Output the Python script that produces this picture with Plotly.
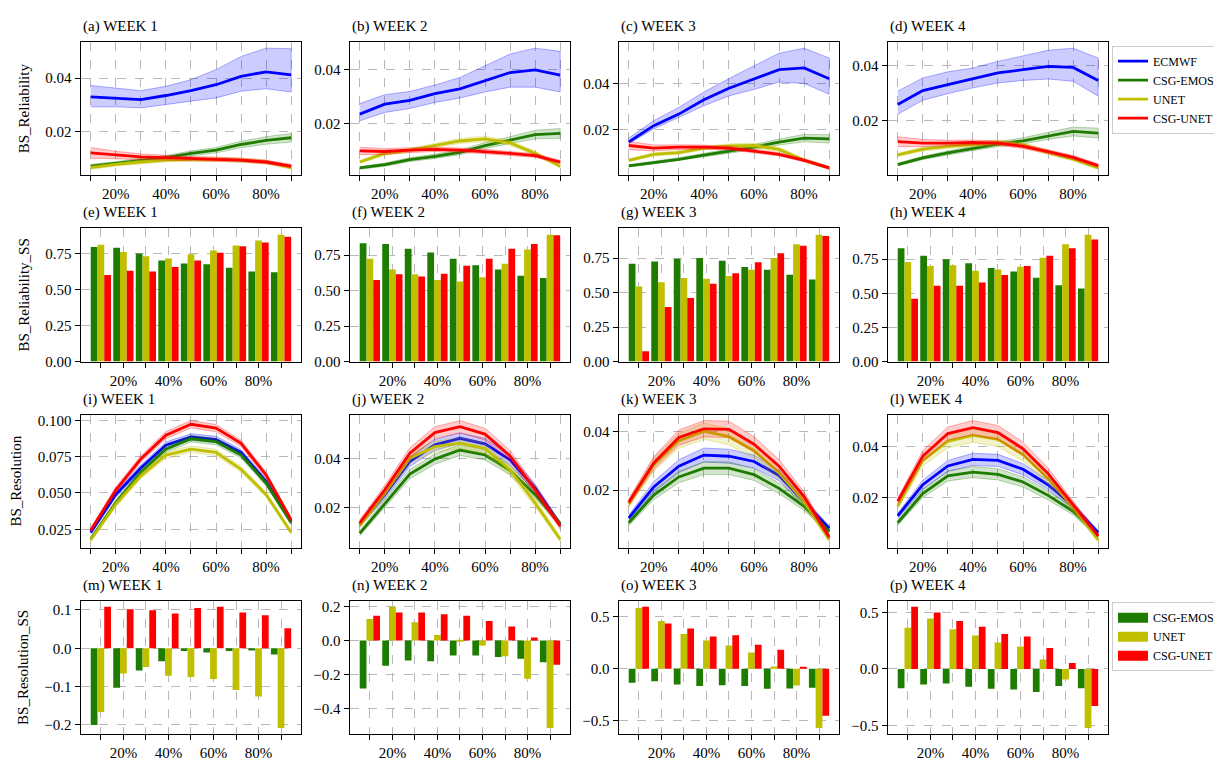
import plotly.graph_objects as go
from plotly.subplots import make_subplots

# thresholds (percent) on the x axis
thresholds = [10, 20, 30, 40, 50, 60, 70, 80, 90]
tick_text = ["", "20%", "", "40%", "", "60%", "", "80%", ""]
weeks = ["WEEK 1", "WEEK 2", "WEEK 3", "WEEK 4"]
letters = "abcdefghijklmnop"
row_titles = ["BS_Reliability", "BS_Reliability_SS", "BS_Resolution", "BS_Resolution_SS"]

# ---- row 1: BS_Reliability (one list per week) ----
rel_ecmwf = [
    [0.0330, 0.0326, 0.0320, 0.0335, 0.0353, 0.0375, 0.0406, 0.0423, 0.0412],
    [0.0236, 0.0273, 0.0287, 0.0312, 0.0330, 0.0360, 0.0390, 0.0400, 0.0381],
    [0.0146, 0.0217, 0.0267, 0.0329, 0.0379, 0.0420, 0.0460, 0.0467, 0.0420],
    [0.0260, 0.0310, 0.0332, 0.0353, 0.0374, 0.0386, 0.0398, 0.0394, 0.0347],
]
rel_ecmwf_hi = [
    [0.0372, 0.0363, 0.0353, 0.0369, 0.0394, 0.0431, 0.0480, 0.0511, 0.0509],
    [0.0275, 0.0308, 0.0320, 0.0344, 0.0372, 0.0415, 0.0459, 0.0481, 0.0469],
    [0.0163, 0.0239, 0.0296, 0.0363, 0.0421, 0.0477, 0.0531, 0.0553, 0.0510],
    [0.0308, 0.0356, 0.0378, 0.0392, 0.0416, 0.0437, 0.0456, 0.0464, 0.0428],
]
rel_ecmwf_lo = [
    [0.0293, 0.0293, 0.0289, 0.0301, 0.0314, 0.0326, 0.0351, 0.0360, 0.0348],
    [0.0211, 0.0242, 0.0257, 0.0279, 0.0296, 0.0318, 0.0336, 0.0336, 0.0318],
    [0.0139, 0.0203, 0.0253, 0.0303, 0.0346, 0.0374, 0.0406, 0.0400, 0.0353],
    [0.0224, 0.0275, 0.0299, 0.0320, 0.0338, 0.0347, 0.0352, 0.0344, 0.0290],
]
rel_emos = [
    [0.0073, 0.0083, 0.0095, 0.0104, 0.0120, 0.0132, 0.0153, 0.0168, 0.0178],
    [0.0036, 0.0048, 0.0067, 0.0079, 0.0094, 0.0119, 0.0139, 0.0160, 0.0164],
    [0.0043, 0.0057, 0.0071, 0.0089, 0.0106, 0.0124, 0.0146, 0.0163, 0.0160],
    [0.0042, 0.0066, 0.0084, 0.0101, 0.0116, 0.0128, 0.0146, 0.0162, 0.0156],
]
rel_emos_hw = [
    [0.0006, 0.0006, 0.0007, 0.0008, 0.0009, 0.0010, 0.0012, 0.0014, 0.0016],
    [0.0005, 0.0006, 0.0007, 0.0008, 0.0009, 0.0011, 0.0013, 0.0016, 0.0018],
    [0.0005, 0.0006, 0.0007, 0.0008, 0.0009, 0.0011, 0.0013, 0.0016, 0.0018],
    [0.0005, 0.0006, 0.0007, 0.0008, 0.0009, 0.0011, 0.0013, 0.0016, 0.0018],
]
rel_unet = [
    [0.0067, 0.0079, 0.0088, 0.0095, 0.0098, 0.0098, 0.0095, 0.0088, 0.0067],
    [0.0058, 0.0090, 0.0102, 0.0120, 0.0136, 0.0144, 0.0129, 0.0090, 0.0042],
    [0.0067, 0.0093, 0.0100, 0.0120, 0.0129, 0.0131, 0.0114, 0.0067, 0.0034],
    [0.0077, 0.0098, 0.0108, 0.0116, 0.0122, 0.0113, 0.0086, 0.0062, 0.0030],
]
rel_unet_hw = [
    [0.0006, 0.0006, 0.0007, 0.0007, 0.0008, 0.0008, 0.0008, 0.0007, 0.0006],
    [0.0006, 0.0007, 0.0007, 0.0008, 0.0009, 0.0010, 0.0009, 0.0008, 0.0006],
    [0.0006, 0.0007, 0.0007, 0.0008, 0.0009, 0.0010, 0.0009, 0.0008, 0.0006],
    [0.0006, 0.0007, 0.0007, 0.0008, 0.0009, 0.0009, 0.0008, 0.0007, 0.0005],
]
rel_csgunet = [
    [0.0122, 0.0114, 0.0107, 0.0104, 0.0100, 0.0098, 0.0095, 0.0088, 0.0073],
    [0.0099, 0.0097, 0.0102, 0.0105, 0.0102, 0.0097, 0.0090, 0.0082, 0.0058],
    [0.0131, 0.0120, 0.0124, 0.0124, 0.0120, 0.0107, 0.0093, 0.0067, 0.0034],
    [0.0125, 0.0120, 0.0120, 0.0122, 0.0120, 0.0108, 0.0089, 0.0068, 0.0038],
]
rel_csgunet_hw = [
    [0.0020, 0.0014, 0.0011, 0.0009, 0.0008, 0.0008, 0.0007, 0.0007, 0.0006],
    [0.0014, 0.0011, 0.0009, 0.0008, 0.0008, 0.0008, 0.0007, 0.0007, 0.0006],
    [0.0018, 0.0013, 0.0010, 0.0009, 0.0008, 0.0008, 0.0007, 0.0007, 0.0006],
    [0.0018, 0.0013, 0.0010, 0.0009, 0.0008, 0.0008, 0.0007, 0.0007, 0.0006],
]

# ---- row 2: BS_Reliability_SS ----
rss_emos = [
    [0.795, 0.790, 0.750, 0.700, 0.680, 0.675, 0.650, 0.625, 0.620],
    [0.835, 0.830, 0.795, 0.770, 0.725, 0.680, 0.650, 0.605, 0.590],
    [0.710, 0.725, 0.745, 0.750, 0.730, 0.685, 0.665, 0.630, 0.595],
    [0.830, 0.775, 0.750, 0.720, 0.685, 0.660, 0.615, 0.560, 0.535],
]
rss_unet = [
    [0.810, 0.760, 0.730, 0.715, 0.745, 0.770, 0.805, 0.840, 0.880],
    [0.725, 0.650, 0.615, 0.575, 0.565, 0.595, 0.690, 0.790, 0.895],
    [0.545, 0.575, 0.605, 0.600, 0.620, 0.665, 0.750, 0.850, 0.920],
    [0.730, 0.700, 0.705, 0.665, 0.675, 0.695, 0.760, 0.860, 0.930],
]
rss_csgunet = [
    [0.600, 0.630, 0.625, 0.655, 0.700, 0.755, 0.800, 0.825, 0.865],
    [0.575, 0.615, 0.600, 0.620, 0.675, 0.725, 0.795, 0.830, 0.890],
    [0.075, 0.395, 0.460, 0.565, 0.640, 0.720, 0.785, 0.840, 0.910],
    [0.460, 0.555, 0.555, 0.580, 0.635, 0.700, 0.775, 0.830, 0.895],
]

# ---- row 3: BS_Resolution ----
res_ecmwf = [
    [0.0228, 0.0489, 0.0672, 0.0829, 0.0886, 0.0868, 0.0779, 0.0578, 0.0301],
    [0.0132, 0.0254, 0.0389, 0.0457, 0.0484, 0.0461, 0.0396, 0.0281, 0.0132],
    [0.0104, 0.0211, 0.0282, 0.0320, 0.0316, 0.0298, 0.0250, 0.0158, 0.0069],
    [0.0128, 0.0251, 0.0325, 0.0351, 0.0347, 0.0312, 0.0251, 0.0167, 0.0062],
]
res_emos = [
    [0.0183, 0.0433, 0.0641, 0.0802, 0.0873, 0.0853, 0.0761, 0.0567, 0.0295],
    [0.0096, 0.0218, 0.0338, 0.0399, 0.0436, 0.0416, 0.0353, 0.0254, 0.0136],
    [0.0088, 0.0183, 0.0245, 0.0275, 0.0275, 0.0253, 0.0206, 0.0144, 0.0058],
    [0.0101, 0.0216, 0.0286, 0.0301, 0.0292, 0.0262, 0.0209, 0.0146, 0.0051],
]
res_unet = [
    [0.0176, 0.0422, 0.0618, 0.0761, 0.0802, 0.0779, 0.0663, 0.0489, 0.0228],
    [0.0128, 0.0260, 0.0403, 0.0450, 0.0464, 0.0443, 0.0355, 0.0220, 0.0072],
    [0.0152, 0.0287, 0.0369, 0.0402, 0.0383, 0.0335, 0.0259, 0.0161, 0.0031],
    [0.0167, 0.0347, 0.0422, 0.0446, 0.0430, 0.0370, 0.0275, 0.0163, 0.0032],
]
res_csgunet = [
    [0.0243, 0.0520, 0.0734, 0.0898, 0.0973, 0.0946, 0.0841, 0.0623, 0.0315],
    [0.0139, 0.0274, 0.0423, 0.0507, 0.0531, 0.0501, 0.0412, 0.0274, 0.0126],
    [0.0158, 0.0293, 0.0380, 0.0410, 0.0408, 0.0357, 0.0282, 0.0178, 0.0039],
    [0.0186, 0.0364, 0.0453, 0.0476, 0.0457, 0.0393, 0.0295, 0.0170, 0.0049],
]
res_ecmwf_hw = [
    [0.0012, 0.0018, 0.0020, 0.0022, 0.0022, 0.0022, 0.0020, 0.0018, 0.0012],
    [0.0010, 0.0016, 0.0020, 0.0022, 0.0022, 0.0022, 0.0020, 0.0016, 0.0010],
    [0.0010, 0.0018, 0.0022, 0.0024, 0.0024, 0.0022, 0.0018, 0.0014, 0.0008],
    [0.0010, 0.0018, 0.0022, 0.0024, 0.0024, 0.0022, 0.0018, 0.0014, 0.0008],
]
res_emos_hw = [
    [0.0012, 0.0018, 0.0020, 0.0022, 0.0022, 0.0022, 0.0020, 0.0018, 0.0012],
    [0.0010, 0.0016, 0.0019, 0.0021, 0.0022, 0.0021, 0.0019, 0.0016, 0.0010],
    [0.0010, 0.0016, 0.0020, 0.0022, 0.0022, 0.0020, 0.0018, 0.0014, 0.0008],
    [0.0010, 0.0016, 0.0020, 0.0022, 0.0022, 0.0020, 0.0018, 0.0014, 0.0008],
]
res_unet_hw = [
    [0.0012, 0.0018, 0.0020, 0.0022, 0.0022, 0.0022, 0.0020, 0.0018, 0.0012],
    [0.0010, 0.0016, 0.0020, 0.0022, 0.0022, 0.0022, 0.0020, 0.0016, 0.0010],
    [0.0012, 0.0022, 0.0026, 0.0028, 0.0028, 0.0026, 0.0022, 0.0016, 0.0008],
    [0.0012, 0.0022, 0.0026, 0.0028, 0.0028, 0.0026, 0.0022, 0.0016, 0.0006],
]
res_csgunet_hw = [
    [0.0015, 0.0020, 0.0022, 0.0025, 0.0025, 0.0025, 0.0022, 0.0020, 0.0015],
    [0.0012, 0.0018, 0.0022, 0.0024, 0.0025, 0.0024, 0.0022, 0.0018, 0.0012],
    [0.0012, 0.0022, 0.0026, 0.0028, 0.0028, 0.0026, 0.0022, 0.0016, 0.0008],
    [0.0012, 0.0022, 0.0026, 0.0028, 0.0028, 0.0026, 0.0022, 0.0016, 0.0006],
]

# ---- row 4: BS_Resolution_SS ----
resss_emos = [
    [-0.200, -0.103, -0.058, -0.034, -0.007, -0.011, -0.007, -0.006, -0.016],
    [-0.282, -0.148, -0.117, -0.122, -0.089, -0.089, -0.097, -0.107, -0.128],
    [-0.137, -0.121, -0.152, -0.168, -0.159, -0.168, -0.194, -0.190, -0.184],
    [-0.172, -0.137, -0.128, -0.157, -0.175, -0.181, -0.204, -0.152, -0.172],
]
resss_unet = [
    [-0.166, -0.066, -0.049, -0.072, -0.075, -0.080, -0.109, -0.126, -0.208],
    [0.126, 0.198, 0.107, 0.033, -0.003, -0.029, -0.093, -0.225, -0.515],
    [0.584, 0.457, 0.333, 0.270, 0.222, 0.156, 0.020, -0.162, -0.571],
    [0.364, 0.446, 0.350, 0.294, 0.233, 0.198, 0.082, -0.093, -0.522],
]
resss_csgunet = [
    [0.108, 0.102, 0.099, 0.091, 0.105, 0.108, 0.093, 0.086, 0.052],
    [0.146, 0.165, 0.165, 0.155, 0.146, 0.115, 0.082, 0.017, -0.142],
    [0.594, 0.435, 0.387, 0.310, 0.320, 0.229, 0.181, 0.016, -0.454],
    [0.548, 0.499, 0.423, 0.373, 0.309, 0.286, 0.184, 0.052, -0.327],
]

BLUE = (0, 0, 255)
GREEN = (30, 125, 0)
YELLOW = (191, 191, 0)
RED = (255, 0, 0)


def rgba(c, a):
    return "rgba(%d,%d,%d,%s)" % (c[0], c[1], c[2], a)


FONT = "Liberation Serif, Times New Roman, Times, serif"
W, H = 1222, 768
COL_LEFT = [72.7, 341.7, 610.7, 879.7]
COL_W = 220.5
ROW_TOP = [32.5, 221.2, 409.9, 598.6]
ROW_H = 135

fig = make_subplots(rows=4, cols=4)


def band(x, lo, hi, color, r, c):
    fig.add_trace(go.Scatter(x=x + x[::-1], y=hi + lo[::-1], mode="lines", fill="toself",
                             fillcolor=rgba(color, 0.2), line=dict(color=rgba(color, 0.3), width=1),
                             hoverinfo="skip", showlegend=False), row=r, col=c)


def line(x, y, color, name, r, c, show):
    fig.add_trace(go.Scatter(x=x, y=y, mode="lines", name=name, line=dict(color=rgba(color, 1), width=2.8),
                             showlegend=show, legend="legend"), row=r, col=c)


def pm(mean, hw, sign):
    return [m + sign * h for m, h in zip(mean, hw)]


def auto_range(lo, hi, sticky_zero=False):
    span = hi - lo
    if sticky_zero:
        return [0, hi + 0.05 * span]
    return [lo - 0.05 * span, hi + 0.05 * span]


ranges = {}

# row 1 and row 3: lines with shaded bands
for row, series in [(1, [(rel_ecmwf, rel_ecmwf_lo, rel_ecmwf_hi, None),
                         (rel_emos, None, None, rel_emos_hw),
                         (rel_unet, None, None, rel_unet_hw),
                         (rel_csgunet, None, None, rel_csgunet_hw)]),
                    (3, [(res_ecmwf, None, None, res_ecmwf_hw),
                         (res_emos, None, None, res_emos_hw),
                         (res_unet, None, None, res_unet_hw),
                         (res_csgunet, None, None, res_csgunet_hw)])]:
    for w in range(4):
        all_lo, all_hi = [], []
        for (mean, lo, hi, hw), color, name in zip(series, [BLUE, GREEN, YELLOW, RED],
                                                   ["ECMWF", "CSG-EMOS", "UNET", "CSG-UNET"]):
            if hw is not None:
                lo_w, hi_w = pm(mean[w], hw[w], -1), pm(mean[w], hw[w], 1)
            else:
                lo_w, hi_w = lo[w], hi[w]
            band(thresholds, lo_w, hi_w, color, row, w + 1)
            line(thresholds, mean[w], color, name, row, w + 1, row == 1 and w == 0)
            all_lo += lo_w
            all_hi += hi_w
        ranges[(row, w)] = auto_range(min(all_lo), max(all_hi))

# row 2 and row 4: grouped bars
for row, series in [(2, [rss_emos, rss_unet, rss_csgunet]), (4, [resss_emos, resss_unet, resss_csgunet])]:
    for w in range(4):
        vals = []
        for data, color, name in zip(series, [GREEN, YELLOW, RED], ["CSG-EMOS", "UNET", "CSG-UNET"]):
            fig.add_trace(go.Bar(x=thresholds, y=data[w], name=name, marker=dict(color=rgba(color, 1), line=dict(width=0)),
                                 showlegend=False), row=row, col=w + 1)
            vals += data[w]
        if row == 2:
            ranges[(row, w)] = auto_range(0, max(vals), sticky_zero=True)
        else:
            ranges[(row, w)] = auto_range(min(vals), max(vals))

# legend patches for the bar legend (wide rectangles like the original)
for color, name in zip([GREEN, YELLOW, RED], ["CSG-EMOS", "UNET", "CSG-UNET"]):
    fig.add_trace(go.Scatter(x=[None], y=[None], mode="lines", name=name, line=dict(color=rgba(color, 1), width=12),
                             showlegend=True, legend="legend2"), row=4, col=1)

tick_fmt = {1: ".2f", 2: ".2f", 3: ".2f", 4: ".1f"}
dticks = {1: [0.02] * 4, 2: [0.25] * 4, 3: [0.025, 0.02, 0.02, 0.02], 4: [0.1, 0.2, 0.5, 0.5]}

annotations = []
for r in range(1, 5):
    for c in range(1, 5):
        x0 = COL_LEFT[c - 1] / W
        x1 = (COL_LEFT[c - 1] + COL_W) / W
        ytop = 1 - ROW_TOP[r - 1] / H
        ybot = 1 - (ROW_TOP[r - 1] + ROW_H) / H
        xr = [6, 94] if r in (1, 3) else [1.05, 98.95]
        fig.update_xaxes(domain=[x0, x1], range=xr, tickmode="array", tickvals=thresholds, ticktext=tick_text,
                         ticks="outside", ticklen=5, tickwidth=1, tickcolor="black",
                         showline=True, mirror=True, linecolor="black", linewidth=1.3,
                         showgrid=True, gridcolor="#b8b8b8", griddash="dash", gridwidth=0.8, zeroline=False,
                         tickfont=dict(size=15, family=FONT, color="black"), row=r, col=c)
        fmt = ".3f" if (r == 3 and c == 1) else tick_fmt[r]
        fig.update_yaxes(domain=[ybot, ytop], range=ranges[(r, c - 1)], tick0=0, dtick=dticks[r][c - 1],
                         tickformat=fmt, ticks="outside", ticklen=5, tickwidth=1, tickcolor="black",
                         showline=True, mirror=True, linecolor="black", linewidth=1.3,
                         showgrid=True, gridcolor="#b8b8b8", griddash="dash", gridwidth=0.8, zeroline=False,
                         tickfont=dict(size=15, family=FONT, color="black"), row=r, col=c)
        if c == 1:
            fig.update_yaxes(title=dict(text=row_titles[r - 1], font=dict(size=15, family=FONT, color="black"),
                                        standoff=12), row=r, col=c)
        idx = (r - 1) * 4 + (c - 1)
        annotations.append(dict(text="(%s) %s" % (letters[idx], weeks[c - 1]), x=x0, y=ytop, xref="paper",
                                yref="paper", xanchor="left", yanchor="bottom", yshift=5, showarrow=False,
                                font=dict(size=15, family=FONT, color="black")))

fig.update_layout(
    width=W, height=H,
    margin=dict(l=0, r=0, t=0, b=0),
    paper_bgcolor="white", plot_bgcolor="white",
    font=dict(family=FONT, size=15, color="black"),
    barmode="group", bargap=0.1, bargroupgap=0,
    annotations=annotations,
    legend=dict(x=1104 / W, y=1 - 36 / H, xanchor="left", yanchor="top", bgcolor="white",
                bordercolor="#cccccc", borderwidth=1, font=dict(size=12, family=FONT), tracegroupgap=0),
    legend2=dict(x=1104 / W, y=1 - 600 / H, xanchor="left", yanchor="top", bgcolor="white",
                 bordercolor="#cccccc", borderwidth=1, font=dict(size=12, family=FONT), tracegroupgap=0),
)

fig.write_html("out.html")
